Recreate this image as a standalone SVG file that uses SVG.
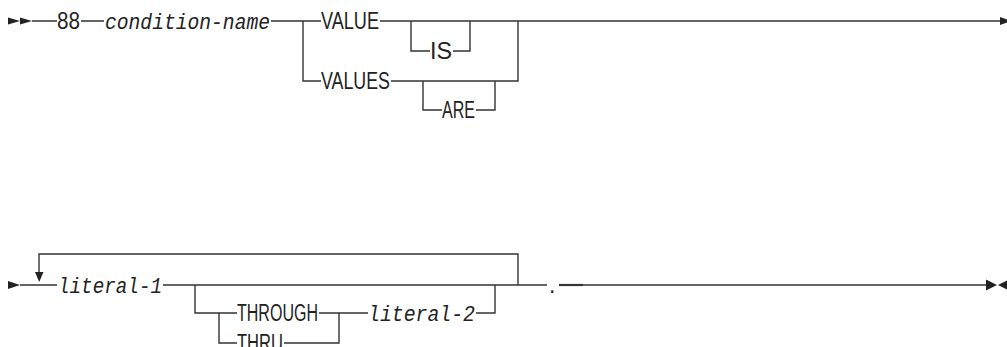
<svg xmlns="http://www.w3.org/2000/svg" width="1007" height="347" viewBox="0 0 1007 347">
<style>
.bg{fill:#ffffff}
.ln{fill:none;stroke:#333333;stroke-width:1.4}
.ar{fill:#222222;stroke:none}
.kw{font-family:"Liberation Sans",Arial,sans-serif;font-size:23px;fill:#222222}
.var{font-family:"Liberation Mono","DejaVu Sans Mono",monospace;font-style:italic;font-size:22px;fill:#222222}
</style>
<rect class="bg" x="0" y="0" width="1007" height="347"/>
<g id="connectors">
  <path class="ln" d="M32 21H57 M81 21H104 M271 21H321 M303 21V81H321"/>
  <path class="ln" d="M380 21H1001"/>
  <path class="ln" d="M411 21V51H430 M453 51H470V21"/>
  <path class="ln" d="M391 81H518V21"/>
  <path class="ln" d="M423 81V110H442 M476 110H495V81"/>
  <path class="ln" d="M20 285H57 M163 285H547"/>
  <path class="ln" d="M39 273V254H518V285"/>
  <path class="ln" d="M195 285V313H237 M219 313V343H237 M319 313H368 M284 343H339V313 M476 313H495V285"/>
  <path class="ln" d="M559 285H988"/>
  <path class="ln" style="stroke-width:2.2" d="M559 285H583"/>
</g>
<g id="markers">
  <polygon class="ar" points="8,17.5 20,21 8,24.5"/>
  <polygon class="ar" points="20,17.5 32,21 20,24.5"/>
  <polygon class="ar" points="1000,17 1011,21 1000,25"/>
  <polygon class="ar" points="8,281 20,285 8,289"/>
  <polygon class="ar" points="35,272 43.5,272 39.2,282"/>
  <polygon class="ar" points="986,279.5 997,285 986,290.5"/>
  <polygon class="ar" points="1009,279.5 998,285 1009,290.5"/>
</g>
<g id="node-88"><text class="kw" x="57" y="29" textLength="23" lengthAdjust="spacingAndGlyphs">88</text></g>
<g id="node-condition-name"><text class="var" x="105" y="29" textLength="165" lengthAdjust="spacingAndGlyphs">condition-name</text></g>
<g id="node-VALUE"><text class="kw" x="321" y="29" textLength="58" lengthAdjust="spacingAndGlyphs">VALUE</text></g>
<g id="node-IS"><text class="kw" x="430" y="58.5" textLength="22" lengthAdjust="spacingAndGlyphs">IS</text></g>
<g id="node-VALUES"><text class="kw" x="321" y="89" textLength="69" lengthAdjust="spacingAndGlyphs">VALUES</text></g>
<g id="node-ARE"><text class="kw" x="442" y="118" textLength="33" lengthAdjust="spacingAndGlyphs">ARE</text></g>
<g id="node-literal-1"><text class="var" x="58" y="293" textLength="104" lengthAdjust="spacingAndGlyphs">literal-1</text></g>
<g id="node-THROUGH"><text class="kw" x="237" y="321" textLength="81" lengthAdjust="spacingAndGlyphs">THROUGH</text></g>
<g id="node-THRU"><text class="kw" x="237" y="351" textLength="46" lengthAdjust="spacingAndGlyphs">THRU</text></g>
<g id="node-literal-2"><text class="var" x="368" y="321" textLength="107" lengthAdjust="spacingAndGlyphs">literal-2</text></g>
<g id="node-period"><text class="kw" x="549" y="293">.</text></g>
</svg>
